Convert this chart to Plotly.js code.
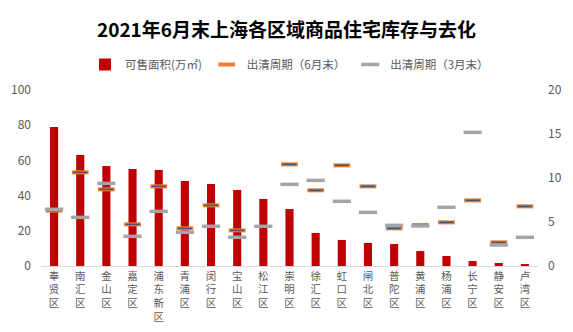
<!DOCTYPE html>
<html><head><meta charset="utf-8">
<script src="https://cdn.plot.ly/plotly-3.0.1.min.js"></script>
<style>html,body{margin:0;padding:0;background:#fff}#chart{width:573px;height:332px}</style>
</head><body><div id="chart"></div>
<script>
const districts = ["奉贤区","南汇区","金山区","嘉定区","浦东新区","青浦区","闵行区","宝山区","松江区","崇明区","徐汇区","虹口区","闸北区","普陀区","黄浦区","杨浦区","长宁区","静安区","卢湾区"];
const stock = [79.0,63.1,56.8,55.1,54.5,48.3,46.6,43.2,38.1,32.4,18.8,14.8,13.1,12.5,8.5,5.7,2.8,1.7,1.1];
const cycleJun = [6.3,10.64,8.71,4.73,9.05,4.28,6.89,4.05,null,11.55,8.6,11.44,9.05,4.28,4.66,4.96,7.46,2.69,6.78];
const cycleMar = [6.45,5.53,9.39,3.37,6.21,3.83,4.51,3.26,4.51,9.28,9.73,7.35,6.1,4.62,4.55,6.67,15.19,2.39,3.26];

const tickText = districts.map(d => d.split("").join("<br>"));
const font = "Noto Sans CJK SC, Noto Sans, sans-serif";

const data = [
  {type:"bar", x:districts, y:stock, name:"可售面积(万㎡)", marker:{color:"#C00000"}, yaxis:"y"},
  {type:"scatter", mode:"markers", x:districts, y:cycleJun, name:"出清周期（6月末）", yaxis:"y2",
   marker:{symbol:"line-ew", size:12, color:"#ED7D31", line:{color:"#ED7D31", width:4}}},
  {type:"scatter", mode:"markers", x:districts, y:cycleJun, name:"6月末", yaxis:"y2", showlegend:false,
   marker:{symbol:"line-ew", size:10, color:"#44546A", line:{color:"#44546A", width:1.5}}},
  {type:"scatter", mode:"markers", x:districts, y:cycleMar, name:"出清周期（3月末）", yaxis:"y2",
   marker:{symbol:"line-ew", size:13, color:"#A5A5A5", line:{color:"#A5A5A5", width:3.5}}}
];

const layout = {
  width:573, height:332,
  margin:{l:41, r:35, t:90, b:66, autoexpand:false},
  paper_bgcolor:"#fff", plot_bgcolor:"#fff",
  font:{family:font, color:"#595959", size:11},
  title:{text:"<b>2021年6月末上海各区域商品住宅库存与去化</b>", x:0.5, xanchor:"center", y:0.91, yanchor:"middle",
         font:{family:font, size:19, color:"#000"}},
  showlegend:true,
  legend:{orientation:"h", x:0.5, xanchor:"center", y:1.145, yanchor:"middle", font:{family:font, size:11.5, color:"#595959"}, traceorder:"normal"},
  bargap:0.69,
  xaxis:{type:"category", range:[-0.5, 18.5], autorange:false, tickvals:districts, ticktext:tickText, showline:true, linecolor:"#D9D9D9", linewidth:1,
         ticks:"", tickfont:{size:10.5, color:"#595959"}, showgrid:false, automargin:false},
  yaxis:{range:[0,100], dtick:20, showgrid:false, zeroline:false, ticks:"", tickfont:{size:12, color:"#595959"}, ticklabelstandoff:9, automargin:false},
  yaxis2:{range:[0,20], dtick:5, overlaying:"y", side:"right", showgrid:false, zeroline:false, ticks:"", tickfont:{size:12, color:"#595959"}, ticklabelstandoff:9, automargin:false}
};
Plotly.newPlot("chart", data, layout, {displayModeBar:false, staticPlot:true});
</script></body></html>
